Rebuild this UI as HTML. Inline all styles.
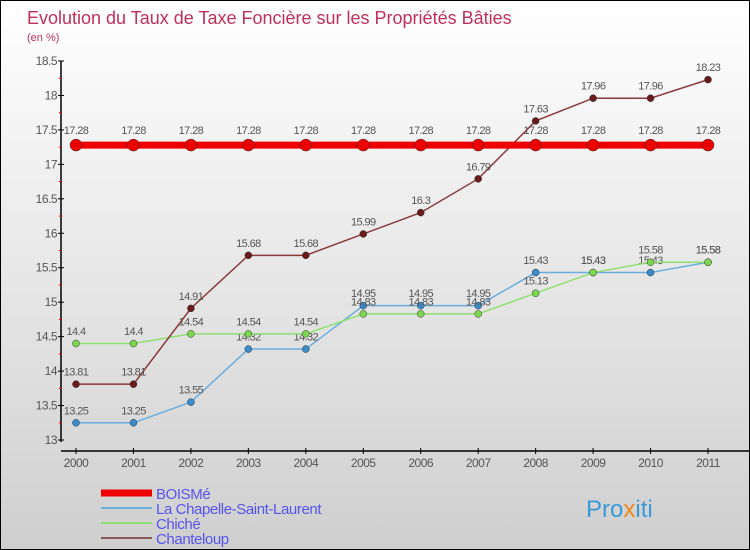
<!DOCTYPE html>
<html><head><meta charset="utf-8"><style>
body{margin:0}
#c{width:750px;height:550px;position:relative;box-sizing:border-box;border:1px solid #000;background:linear-gradient(#ffffff,#cfcfcf);font-family:"Liberation Sans",sans-serif;overflow:hidden}
text{font-family:"Liberation Sans",sans-serif}
</style></head><body>
<div id="c">
<svg id="s" width="750" height="550">
<text x="26" y="23" font-size="18" fill="#c0305a">Evolution du Taux de Taxe Foncière sur les Propriétés Bâties</text>
<text x="26" y="40" font-size="11" fill="#c0305a">(en %)</text>
<g id="axes"></g><g id="series"></g><g id="legend"></g>
<text x="585" y="516" font-size="24" fill="#3a9ad9">Pro<tspan fill="#f08a1c">x</tspan>iti</text>
</svg></div>
<script>
const years=["2000","2001","2002","2003","2004","2005","2006","2007","2008","2009","2010","2011"];
const yTicks=[13,13.5,14,14.5,15,15.5,16,16.5,17,17.5,18,18.5];
const seriesNames=["BOISMé","La Chapelle-Saint-Laurent","Chiché","Chanteloup"];
const boisme=[17.28,17.28,17.28,17.28,17.28,17.28,17.28,17.28,17.28,17.28,17.28,17.28];
const chapelle=[13.25,13.25,13.55,14.32,14.32,14.95,14.95,14.95,15.43,15.43,15.43,15.58];
const chiche=[14.4,14.4,14.54,14.54,14.54,14.83,14.83,14.83,15.13,15.43,15.58,15.58];
const chanteloup=[13.81,13.81,14.91,15.68,15.68,15.99,16.3,16.79,17.63,17.96,17.96,18.23];
const NS="http://www.w3.org/2000/svg";
function X(i){return 75+i*(707-75)/(years.length-1);}
function Y(v){return 439-(v-13)*(439-60)/5.5;}
function mk(t,a,p){const e=document.createElementNS(NS,t);for(const k in a)e.setAttribute(k,a[k]);p.appendChild(e);return e;}
const ax=document.getElementById('axes');
let e=mk('line',{x1:60,y1:60,x2:60,y2:441,stroke:'#000','stroke-width':1.5},ax);


e=mk('line',{x1:60,y1:450,x2:750,y2:450,stroke:'#000','stroke-width':1.5},ax);


yTicks.forEach(v=>{const y=Y(v);
mk('line',{x1:57,y1:y,x2:63,y2:y,stroke:'#000'},ax);
if(v<18.5)mk('line',{x1:58,y1:Y(v+0.25),x2:61,y2:Y(v+0.25),stroke:'#e00'},ax);
const t=mk('text',{x:56,y:y+4,'font-size':12,fill:'#555','text-anchor':'end','letter-spacing':'-0.5'},ax);t.textContent=v;

});
years.forEach((yr,i)=>{const x=X(i);
mk('line',{x1:x,y1:447,x2:x,y2:453,stroke:'#000'},ax);
const t=mk('text',{x:x,y:466,'font-size':12,fill:'#555','text-anchor':'middle','letter-spacing':'-0.5'},ax);t.textContent=yr;

});
const sg=document.getElementById('series');
function draw(vals,color,dot,w,r,name){
const g=mk('g',{},sg);


mk('polyline',{points:vals.map((v,i)=>X(i)+','+Y(v)).join(' '),fill:'none',stroke:color,'stroke-width':w},g);
vals.forEach((v,i)=>{const c=mk('circle',{cx:X(i),cy:Y(v),r:r,fill:dot,stroke:'#333','stroke-width':0.5},g);


const t=mk('text',{x:X(i),y:Y(v)-(r+5),'font-size':11,fill:'#555','text-anchor':'middle','letter-spacing':'-0.6'},g);t.textContent=v;

});}
draw(chapelle,'#6aaee0','#3a8ccc',1.5,3.5,'series-chapelle');
draw(chiche,'#8ee070','#7cd64e',1.5,3.5,'series-chiche');
draw(chanteloup,'#8a3a3a','#6a1a1a',1.5,3.5,'series-chanteloup');
draw(boisme,'#ee0000','#ee0000',7,6,'series-boisme');
const lg=document.getElementById('legend');
const lc=['#ee0000','#6aaee0','#8ee070','#8a5a5a'],lw=[7,2,2,2];
seriesNames.forEach((n,i)=>{const y=492+i*15;
const l=mk('line',{x1:100,y1:y,x2:151,y2:y,stroke:lc[i],'stroke-width':lw[i]},lg);


const t=mk('text',{x:155,y:y+6,'font-size':15,fill:'#5555ee','letter-spacing':'-0.4'},lg);t.textContent=n;

});
</script>
</body></html>
